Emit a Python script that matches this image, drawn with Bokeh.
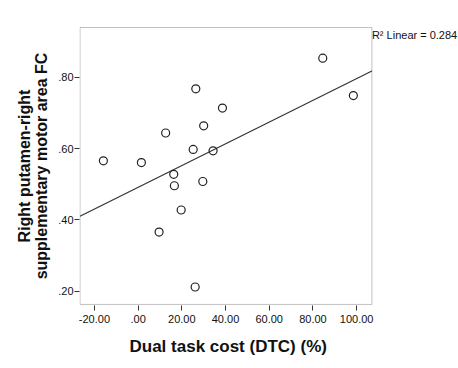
import numpy as np
from bokeh.plotting import figure
from bokeh.models import Range1d, FixedTicker, Label, BoxAnnotation, Title
from bokeh.embed import file_html
from bokeh.resources import INLINE

dtc = [-15.9, 1.5, 12.6, 9.6, 16.3, 16.6, 19.7, 25.2, 26.4, 26.1, 30.0, 29.6, 34.3, 38.6, 84.5, 98.5]
fc = [0.566, 0.561, 0.644, 0.366, 0.528, 0.496, 0.428, 0.598, 0.768, 0.212, 0.664, 0.508, 0.594, 0.714, 0.854, 0.749]

x_ticks = [-20, 0, 20, 40, 60, 80, 100]
x_labels = ["-20.00", ".00", "20.00", "40.00", "60.00", "80.00", "100.00"]
y_ticks = [0.2, 0.4, 0.6, 0.8]
y_labels = [".20", ".40", ".60", ".80"]
x_title = "Dual task cost (DTC) (%)"
y_title = "Right putamen-right\nsupplementary motor area FC"
r2_text = "R\u00b2 Linear = 0.284"

# visible plot box (data units)
x0, x1 = -26.6, 107.0
y0, y1 = 0.163, 0.94

W, H = 458, 368
BL, BT, BB = 79, 26, 61
frame_w = W - BL
frame_h = H - BT - BB
px_x = 2.185   # pixels per x unit
px_y = 359.0   # pixels per y unit
xs = x0 - 0.5 / px_x
ye = y1 + 1.0 / px_y

p = figure(width=W, height=H, output_backend="svg", toolbar_location=None,
           x_range=Range1d(xs, xs + frame_w / px_x),
           y_range=Range1d(ye - frame_h / px_y, ye),
           min_border_left=BL, min_border_right=0, min_border_top=BT, min_border_bottom=BB)
p.xgrid.visible = False
p.ygrid.visible = False
p.outline_line_color = None

for ax, ticks, labels in ((p.xaxis[0], x_ticks, x_labels), (p.yaxis[0], y_ticks, y_labels)):
    ax.ticker = FixedTicker(ticks=ticks)
    ax.major_label_overrides = {t: l for t, l in zip(ticks, labels)}
    ax.minor_tick_line_color = None
    ax.major_tick_in = 0
    ax.major_tick_out = 5
    ax.major_tick_line_color = "#333333"
    ax.axis_line_color = None
    ax.major_label_text_font = "Liberation Sans"
    ax.major_label_text_font_size = "11px"
    ax.major_label_text_color = "#111111"
    ax.axis_label_text_font = "Liberation Sans"
    ax.axis_label_text_font_style = "bold"
    ax.axis_label_text_font_size = "16px"
    ax.axis_label_text_color = "#111111"
    ax.axis_label_text_line_height = 1.0

p.yaxis.axis_label = y_title
p.xaxis.major_label_standoff = 4
p.yaxis.major_label_standoff = 1
p.yaxis.axis_label_standoff = 5

# x axis title, positioned under the visible box (frame extends right for the R² note)
xt = Title(text=x_title, align="left", offset=50, vertical_align="top", standoff=22,
           text_font="Liberation Sans", text_font_style="bold", text_font_size="17px",
           text_color="#111111")
p.add_layout(xt, "below")

box = BoxAnnotation(left=x0, right=x1, bottom=y0, top=y1, fill_color=None,
                    line_color="#333333", line_width=1)
p.add_layout(box)

# Fit line
slope, intercept = np.polyfit(dtc, fc, 1)
p.line([x0, x1], [intercept + slope * x0, intercept + slope * x1], line_color="#333333", line_width=1.2)

p.scatter(dtc, fc, marker="circle", size=8, fill_color=None, line_color="#222222", line_width=1.2)

lab = Label(x=x1, y=y1, x_offset=0, y_offset=-8, text=r2_text, text_font="Liberation Sans",
            text_font_size="11px", text_color="#111111", text_baseline="middle")
p.add_layout(lab)

open("out.html", "w").write(file_html(p, INLINE))
